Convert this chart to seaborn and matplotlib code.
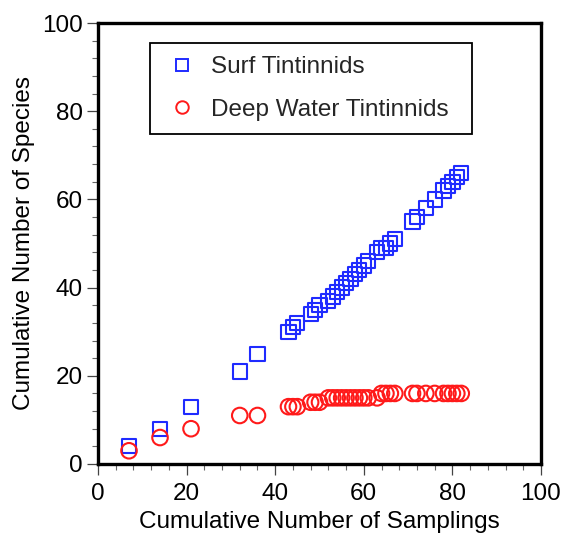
import matplotlib
matplotlib.use("Agg")
import matplotlib.pyplot as plt
from matplotlib.lines import Line2D
from matplotlib.ticker import MultipleLocator
import numpy as np
import pandas as pd
import seaborn as sns

# Cumulative number of samplings (x) shared by both series
samplings = [7, 14, 21, 32, 36, 43, 44, 45, 48, 49, 50, 52, 53, 54, 55, 56, 57, 58,
             59, 60, 61, 63, 64, 65, 66, 67, 71, 72, 74, 76, 78, 79, 80, 81, 82]
# Cumulative number of species found
surf_species = [4, 8, 13, 21, 25, 30, 31, 32, 34, 35, 36, 37, 38, 39, 40, 41, 42, 43,
                44, 45, 46, 48, 49, 49, 50, 51, 55, 56, 58, 60, 62, 63, 64, 65, 66]
deep_species = [3, 6, 8, 11, 11, 13, 13, 13, 14, 14, 14, 15, 15, 15, 15, 15, 15, 15,
                15, 15, 15, 15, 16, 16, 16, 16, 16, 16, 16, 16, 16, 16, 16, 16, 16]
series_labels = ["Surf Tintinnids", "Deep Water Tintinnids"]
x_ticks = [0, 20, 40, 60, 80, 100]
y_ticks = [0, 20, 40, 60, 80, 100]

sns.set_theme(style="white")
plt.rcParams["font.family"] = ["Liberation Sans", "DejaVu Sans"]

surf_df = pd.DataFrame({"samplings": samplings, "species": surf_species})
deep_df = pd.DataFrame({"samplings": samplings, "species": deep_species})

blue = "#1f2bff"
red = "#ff1a1a"

fig = plt.figure(figsize=(5.62, 5.34), dpi=100)
ax = fig.add_axes([98 / 562, 1 - 464 / 534, 443 / 562, 441 / 534])

sns.scatterplot(data=surf_df, x="samplings", y="species", marker="s", s=105,
                edgecolor=blue, linewidth=1.5, ax=ax, legend=False, zorder=3)
ax.collections[-1].set_facecolor("none")
sns.scatterplot(data=deep_df, x="samplings", y="species", marker="o", s=125,
                edgecolor=red, linewidth=1.5, ax=ax, legend=False, zorder=3)
ax.collections[-1].set_facecolor("none")

ax.set_xlim(x_ticks[0], x_ticks[-1])
ax.set_ylim(y_ticks[0], y_ticks[-1])
ax.set_xticks(x_ticks)
ax.set_yticks(y_ticks)
ax.xaxis.set_minor_locator(MultipleLocator(4))
ax.yaxis.set_minor_locator(MultipleLocator(4))

for side in ["left", "bottom", "top", "right"]:
    ax.spines[side].set_visible(True)
    ax.spines[side].set_color("black")
    ax.spines[side].set_linewidth(2.4)

ax.tick_params(axis="both", which="major", direction="out", length=8, width=0.9,
               color="#444444", labelsize=17.5, bottom=True, left=True,
               top=False, right=False, labelcolor="black")
ax.tick_params(axis="x", which="major", pad=6)
ax.tick_params(axis="y", which="major", pad=3)
ax.tick_params(axis="both", which="minor", direction="out", length=4, width=0.8,
               color="#666666", bottom=True, left=True, top=False, right=False)

ax.set_xlabel("Cumulative Number of Samplings", fontsize=17.5, color="black", labelpad=4)
ax.set_ylabel("Cumulative Number of Species", fontsize=17.5, color="black", labelpad=5)
ax.grid(False)

handles = [
    Line2D([], [], linestyle="none", marker="s", markersize=9, markerfacecolor="none",
           markeredgecolor=blue, markeredgewidth=1.4),
    Line2D([], [], linestyle="none", marker="o", markersize=9, markerfacecolor="none",
           markeredgecolor=red, markeredgewidth=1.4),
]
leg = ax.legend(handles, series_labels, loc="upper left",
                bbox_to_anchor=(0.117, 0.753, 0.727, 0.202), mode="expand",
                fontsize=17.5, frameon=True, fancybox=False, edgecolor="black",
                framealpha=1, borderpad=0.55, labelspacing=0.85,
                handlelength=1.56, handletextpad=0.4, borderaxespad=0)
leg.get_frame().set_linewidth(1.3)

fig.savefig("out.png", dpi=100)
